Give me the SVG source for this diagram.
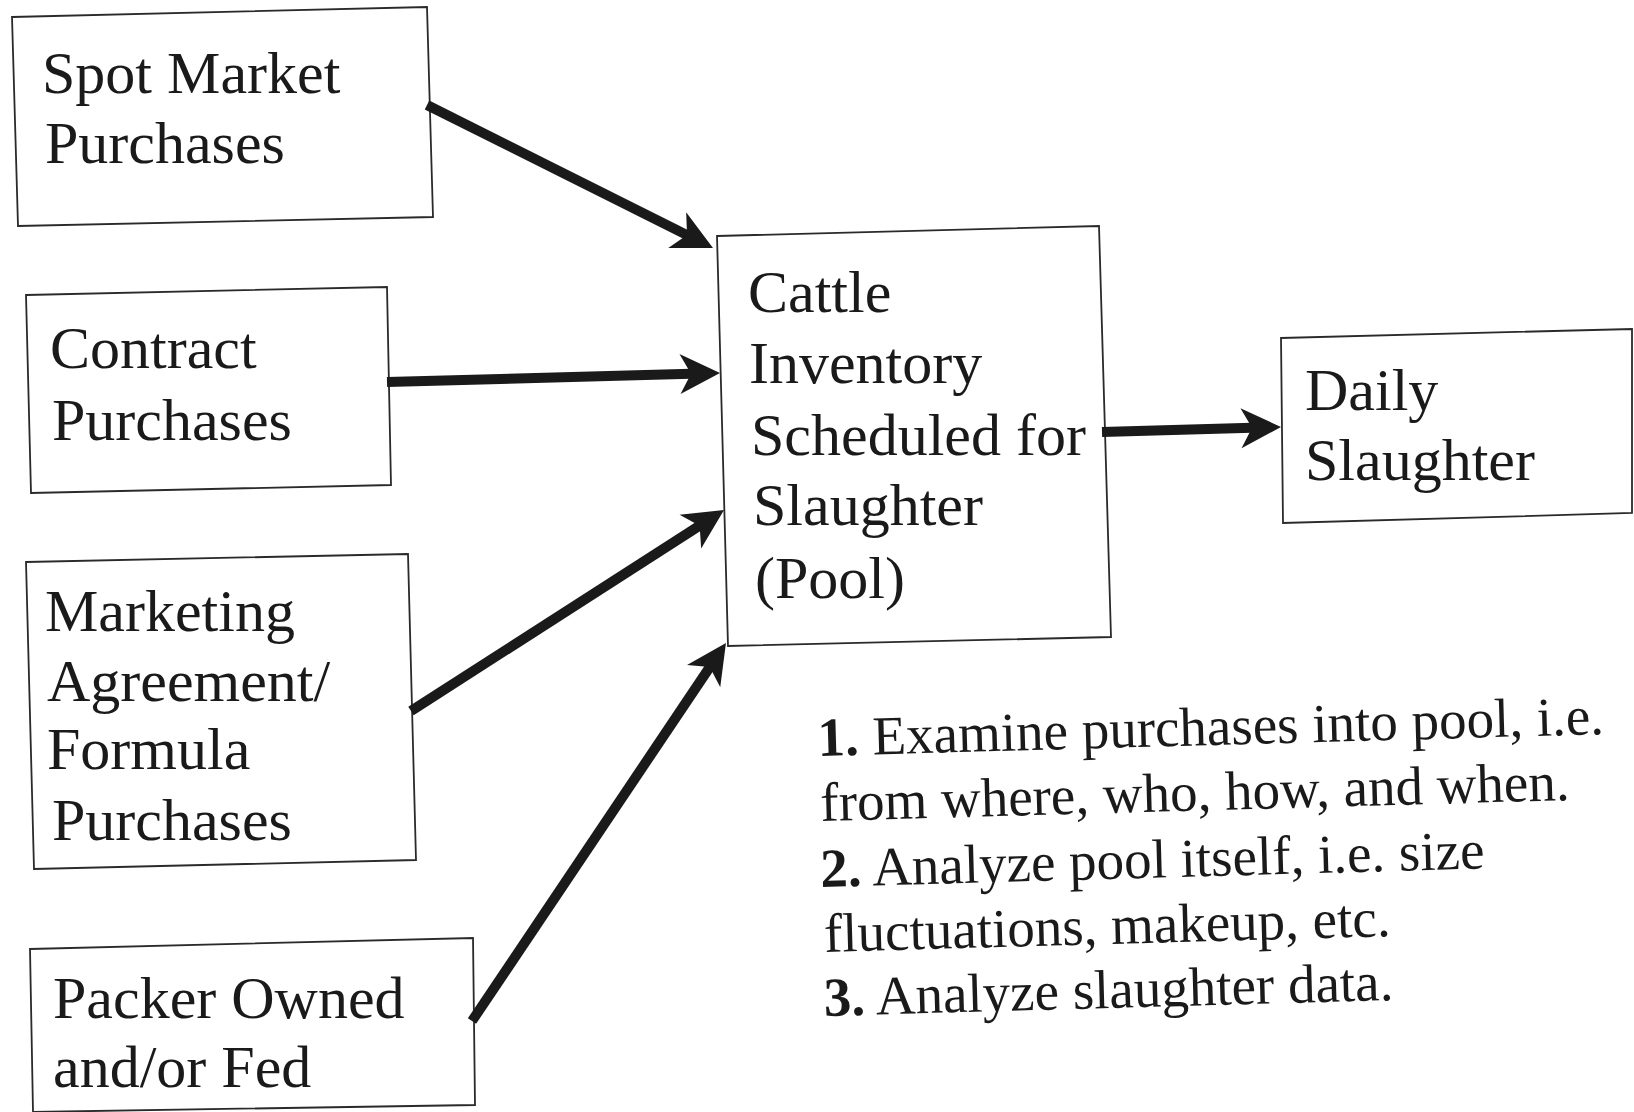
<svg xmlns="http://www.w3.org/2000/svg" width="1634" height="1112" viewBox="0 0 1634 1112">
<style>
.box{fill:none;stroke:#2a2a2a;stroke-width:1.8}
.lbl{font-family:"Liberation Serif","Times New Roman",serif;font-size:60px;fill:#1a1a1a}
.note{font-family:"Liberation Serif","Times New Roman",serif;font-size:55px;fill:#1a1a1a}
.num{font-weight:bold}
.conn{stroke:#1a1a1a;stroke-width:10;fill:none;marker-end:url(#head)}
</style>
<defs>
<marker id="head" viewBox="-41 -21 43 42" markerWidth="43" markerHeight="42" refX="-20" refY="0" orient="auto" markerUnits="userSpaceOnUse">
<path d="M0,0 L-40,-20 L-29,0 L-40,20 Z" fill="#1a1a1a"/>
</marker>
</defs>
<rect width="1634" height="1112" fill="#ffffff"/>

<g id="spot">
<polygon class="box" points="12,17 427,7 433,217 18,226"/>
<text class="lbl" x="42" y="93">Spot Market</text>
<text class="lbl" x="45" y="163">Purchases</text>
</g>

<g id="contract">
<polygon class="box" points="26,295 387,287 391,485 31,493"/>
<text class="lbl" x="50" y="368">Contract</text>
<text class="lbl" x="52" y="440">Purchases</text>
</g>

<g id="marketing">
<polygon class="box" points="26,562 408,554 416,860 34,869"/>
<text class="lbl" x="45" y="631">Marketing</text>
<text class="lbl" x="47" y="701">Agreement/</text>
<text class="lbl" x="47" y="769">Formula</text>
<text class="lbl" x="52" y="840">Purchases</text>
</g>

<g id="packer">
<polygon class="box" points="30,949 473,938 475,1105 33,1112"/>
<text class="lbl" x="53" y="1018">Packer Owned</text>
<text class="lbl" x="53" y="1087">and/or Fed</text>
</g>

<g id="pool">
<polygon class="box" points="717,236 1099,226 1111,637 728,646"/>
<text class="lbl" x="748" y="312">Cattle</text>
<text class="lbl" x="749" y="383">Inventory</text>
<text class="lbl" x="751" y="455">Scheduled for</text>
<text class="lbl" x="753" y="525">Slaughter</text>
<text class="lbl" x="755" y="598">(Pool)</text>
</g>

<g id="daily">
<polygon class="box" points="1281,338 1632,329 1632,513 1283,523"/>
<text class="lbl" x="1305" y="410">Daily</text>
<text class="lbl" x="1305" y="480">Slaughter</text>
</g>

<g id="connectors">
<line class="conn" x1="427" y1="105" x2="695.1" y2="239.1"/>
<line class="conn" x1="387" y1="382" x2="700" y2="373.5"/>
<line class="conn" x1="1102" y1="432" x2="1261" y2="427.6"/>
<line class="conn" x1="411" y1="711" x2="707.2" y2="520.8"/>
<line class="conn" x1="472" y1="1021" x2="714.8" y2="659.6"/>
</g>

<g id="notes" transform="rotate(-1.6 818 755)">
<text class="note" x="818" y="756"><tspan class="num">1.</tspan> Examine purchases into pool, i.e.</text>
<text class="note" x="819" y="821">from where, who, how, and when.</text>
<text class="note" x="817" y="887"><tspan class="num">2.</tspan> Analyze pool itself, i.e. size</text>
<text class="note" x="819" y="952">fluctuations, makeup, etc.</text>
<text class="note" x="817" y="1016"><tspan class="num">3.</tspan> Analyze slaughter data.</text>
</g>
</svg>
